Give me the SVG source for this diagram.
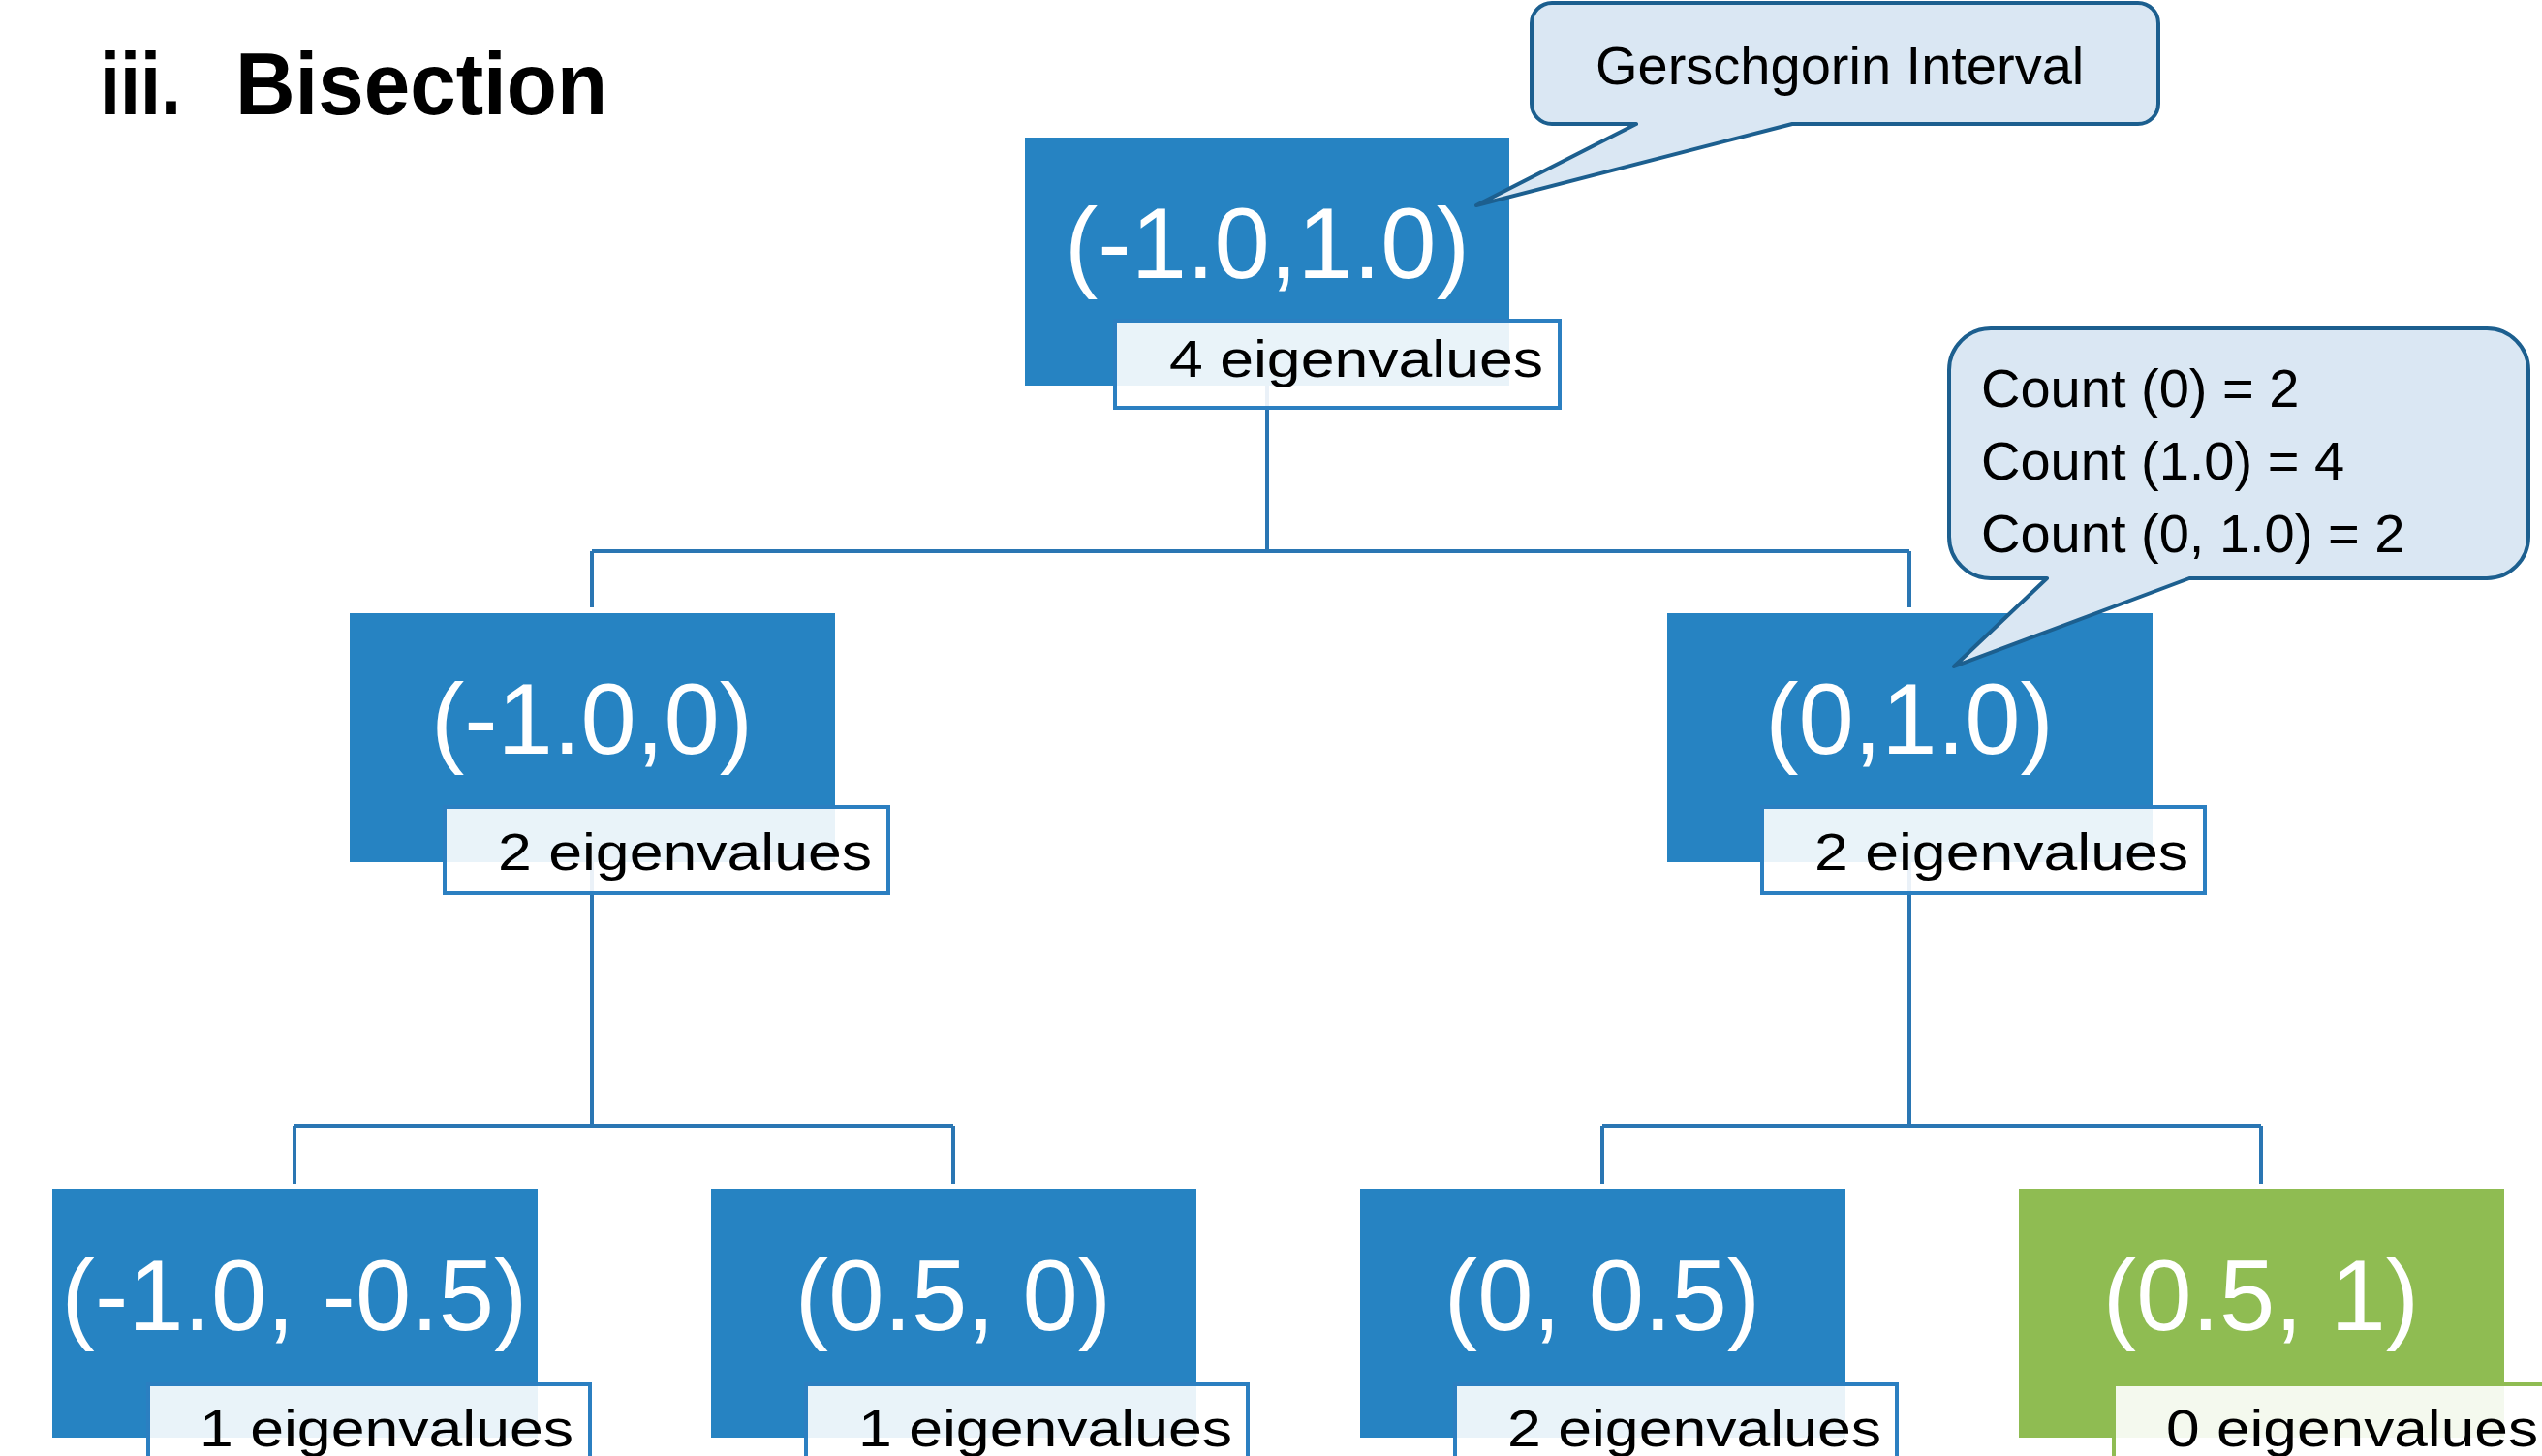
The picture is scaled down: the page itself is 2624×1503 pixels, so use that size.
<svg xmlns="http://www.w3.org/2000/svg" width="2624" height="1503" viewBox="0 0 2624 1503">
<style>
.bg{fill:#ffffff}
.blue{fill:#2683c2}
.green{fill:#8fbc52}
.lbl{fill:#ffffff;fill-opacity:0.9;stroke:#2b7fc1;stroke-width:4}
.lblg{fill:#ffffff;fill-opacity:0.9;stroke:#8fbc52;stroke-width:4}
.big{font-family:"Liberation Sans",Arial,sans-serif;font-size:103px;fill:#ffffff;text-anchor:middle}
.small{font-family:"Liberation Sans",Arial,sans-serif;font-size:54px;fill:#000000}
.call{fill:#dae7f3;stroke:#1c5f8f;stroke-width:4;stroke-linejoin:round}
.ctext{font-family:"Liberation Sans",Arial,sans-serif;font-size:56px;fill:#000000}
.title{font-family:"Liberation Sans",Arial,sans-serif;font-size:90px;font-weight:bold;fill:#000000}
.conn{fill:none;stroke:#2a76b3;stroke-width:4}
</style>
<rect class="bg" x="0" y="0" width="2624" height="1503"/>

<g id="title">
<text class="title" y="118"><tspan x="103" textLength="84" lengthAdjust="spacingAndGlyphs">iii.</tspan><tspan x="243" textLength="384" lengthAdjust="spacingAndGlyphs">Bisection</tspan></text>
</g>

<g id="connectors">
<path class="conn" d="M1308,398 V569 M611,569 H1971 M611,569 V627 M1971,569 V627"/>
<path class="conn" d="M611,890 V1162 M304,1162 H984 M304,1162 V1222 M984,1162 V1222"/>
<path class="conn" d="M1971,890 V1162 M1654,1162 H2334 M1654,1162 V1222 M2334,1162 V1222"/>
</g>

<g id="node-root">
<rect class="blue" x="1058" y="142" width="500" height="256"/>
<text class="big" x="1308" y="287">(-1.0,1.0)</text>
<rect class="lbl" x="1151" y="331" width="459" height="90"/>
<text class="small" x="1207" y="389" textLength="386" lengthAdjust="spacingAndGlyphs">4 eigenvalues</text>
</g>

<g id="node-l2-left">
<rect class="blue" x="361" y="633" width="501" height="257"/>
<text class="big" x="611" y="778">(-1.0,0)</text>
<rect class="lbl" x="459" y="833" width="458" height="89"/>
<text class="small" x="514" y="898" textLength="386" lengthAdjust="spacingAndGlyphs">2 eigenvalues</text>
</g>

<g id="node-l2-right">
<rect class="blue" x="1721" y="633" width="501" height="257"/>
<text class="big" x="1971" y="778">(0,1.0)</text>
<rect class="lbl" x="1819" y="833" width="457" height="89"/>
<text class="small" x="1873" y="898" textLength="386" lengthAdjust="spacingAndGlyphs">2 eigenvalues</text>
</g>

<g id="node-l3-1">
<rect class="blue" x="54" y="1227" width="501" height="257"/>
<text class="big" x="304" y="1373">(-1.0, -0.5)</text>
<rect class="lbl" x="153" y="1429" width="456" height="90"/>
<text class="small" x="206" y="1493" textLength="386" lengthAdjust="spacingAndGlyphs">1 eigenvalues</text>
</g>

<g id="node-l3-2">
<rect class="blue" x="734" y="1227" width="501" height="257"/>
<text class="big" x="984" y="1373">(0.5, 0)</text>
<rect class="lbl" x="832" y="1429" width="456" height="90"/>
<text class="small" x="886" y="1493" textLength="386" lengthAdjust="spacingAndGlyphs">1 eigenvalues</text>
</g>

<g id="node-l3-3">
<rect class="blue" x="1404" y="1227" width="501" height="257"/>
<text class="big" x="1654" y="1373">(0, 0.5)</text>
<rect class="lbl" x="1502" y="1429" width="456" height="90"/>
<text class="small" x="1556" y="1493" textLength="386" lengthAdjust="spacingAndGlyphs">2 eigenvalues</text>
</g>

<g id="node-l3-4">
<rect class="green" x="2084" y="1227" width="501" height="257"/>
<text class="big" x="2334" y="1373">(0.5, 1)</text>
<rect class="lblg" x="2182" y="1429" width="456" height="90"/>
<text class="small" x="2236" y="1493" textLength="384" lengthAdjust="spacingAndGlyphs">0 eigenvalues</text>
</g>

<g id="callout-gerschgorin">
<path class="call" d="M1602,3 H2207 A21,21 0 0 1 2228,24 V107 A21,21 0 0 1 2207,128 H1850 L1524,212 L1689,128 H1602 A21,21 0 0 1 1581,107 V24 A21,21 0 0 1 1602,3 Z"/>
<text class="ctext" x="1647" y="87" font-size="57">Gerschgorin Interval</text>
</g>

<g id="callout-count">
<path class="call" d="M2055,339 H2567 A43,43 0 0 1 2610,382 V554 A43,43 0 0 1 2567,597 H2260 L2017,688 L2113,597 H2055 A43,43 0 0 1 2012,554 V382 A43,43 0 0 1 2055,339 Z"/>
<text class="ctext" x="2045" y="420">Count (0) = 2</text>
<text class="ctext" x="2045" y="495">Count (1.0) = 4</text>
<text class="ctext" x="2045" y="570">Count (0, 1.0) = 2</text>
</g>
</svg>
